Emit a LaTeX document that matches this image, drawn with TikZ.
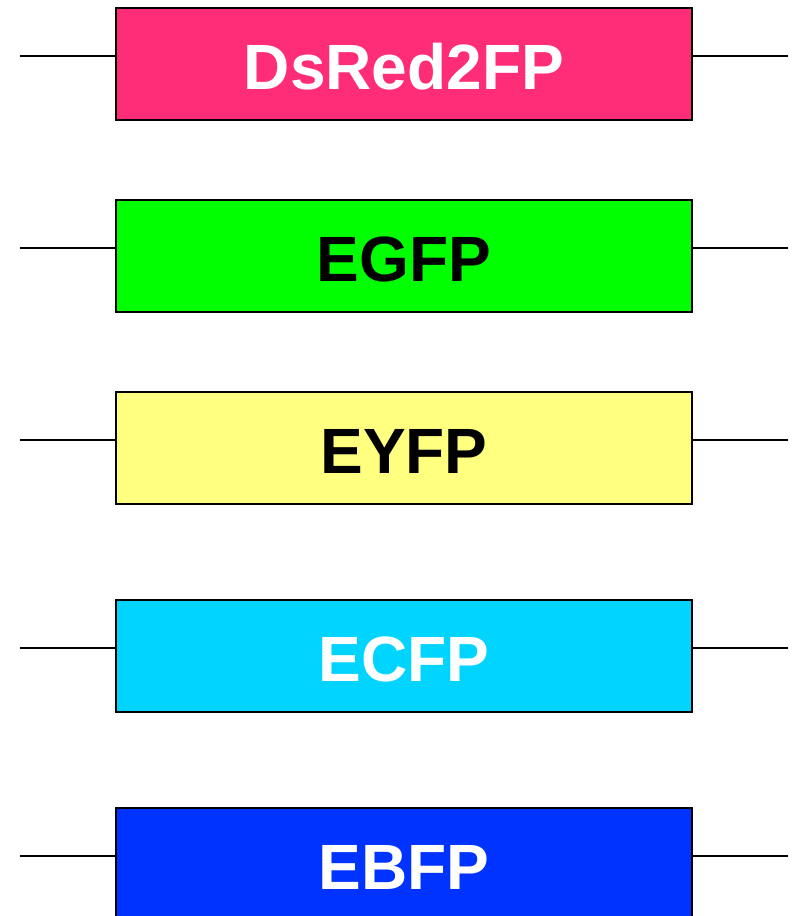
\documentclass[tikz,border=0pt]{standalone}
\usepackage{fontspec}
\setsansfont{Liberation Sans}
\usetikzlibrary{positioning}
\definecolor{dsred}{RGB}{255,45,120}
\definecolor{egfp}{RGB}{0,255,0}
\definecolor{eyfp}{RGB}{255,255,128}
\definecolor{ecfp}{RGB}{0,212,255}
\definecolor{ebfp}{RGB}{0,51,255}

\begin{document}
\begin{tikzpicture}[x=1pt,y=-1pt,
  fpbox/.style={draw=black, line width=2pt, minimum width=576pt, minimum height=112pt, inner sep=0pt, outer sep=0pt, anchor=north west},
  fplabel/.style={font=\sffamily\bfseries\fontsize{64}{64}\selectfont, inner sep=0pt},
  wire/.style={line width=2pt}]
  \useasboundingbox (0,0) rectangle (792,916);
  % boxes: name, top edge, fill, text colour, label
  \foreach \name/\top/\fillc/\txtc/\lbl in {
    red/8/dsred/white/DsRed2FP,
    green/200/egfp/black/EGFP,
    yellow/392/eyfp/black/EYFP,
    cyan/600/ecfp/white/ECFP,
    blue/808/ebfp/white/EBFP}{
    \node[fpbox, fill=\fillc] (\name) at (116,\top) {};
    \node[fplabel, text=\txtc] (\name-lbl) at ([yshift=-3pt]\name.center) {\lbl};
    % wires on both sides
    \coordinate (\name-l) at (20,\top+48);
    \coordinate (\name-r) at (788,\top+48);
    \draw[wire] (\name-l) -- (\name-l -| \name.west);
    \draw[wire] (\name.east |- \name-r) -- (\name-r);
  }
\end{tikzpicture}
\end{document}
